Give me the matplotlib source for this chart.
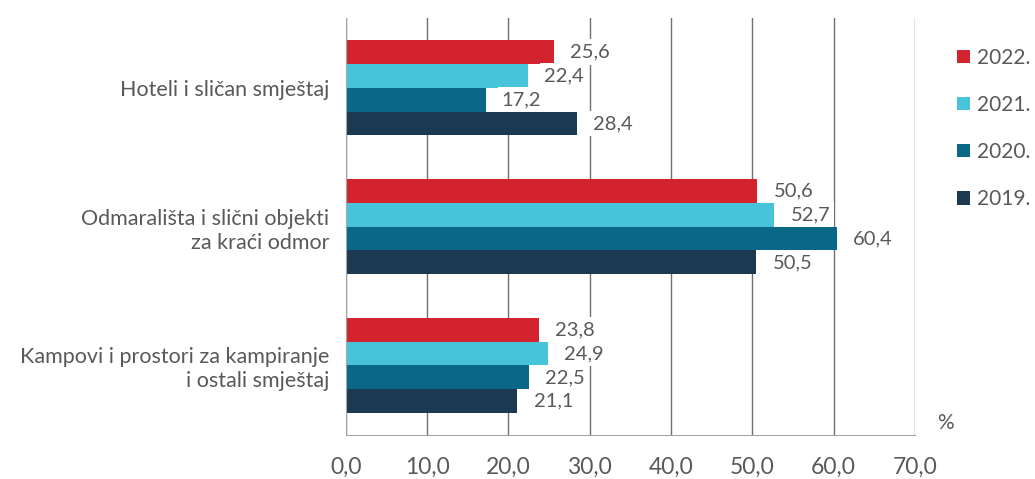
import matplotlib.pyplot as plt
import numpy as np

plt.rcParams['font.family'] = ['Lato', 'DejaVu Sans']

categories = ['Hoteli i sličan smještaj',
              'Odmarališta i slični objekti\nza kraći odmor',
              'Kampovi i prostori za kampiranje\ni ostali smještaj']
years = ['2022.', '2021.', '2020.', '2019.']
v2022 = [25.6, 50.6, 23.8]
v2021 = [22.4, 52.7, 24.9]
v2020 = [17.2, 60.4, 22.5]
v2019 = [28.4, 50.5, 21.1]
colors = ['#D2232F', '#47C3DA', '#0A6787', '#1B3A52']

series = [v2022, v2021, v2020, v2019]
gray = '#595959'

fig = plt.figure(figsize=(10.35, 4.79), dpi=100)
ax = fig.add_axes([0.334, 0.092, 0.55, 0.870])

h = 0.172
y = np.arange(len(categories))
for i, (vals, c, yr) in enumerate(zip(series, colors, years)):
    pos = y + (i - 1.5) * h
    ax.barh(pos, vals, height=h, color=c, label=yr, zorder=2)
    for p, v in zip(pos, vals):
        ax.text(v + 2.0, p, f'{v:.1f}'.replace('.', ','), va='center', ha='left',
                fontsize=14.5, color=gray, zorder=4,
                bbox=dict(facecolor='white', edgecolor='none', pad=3))

ax.set_xlim(0, 70)
ax.set_ylim(len(categories) - 0.5, -0.5)
ax.set_xticks(np.arange(0, 71, 10))
ax.set_xticklabels([f'{t:.1f}'.replace('.', ',') for t in np.arange(0, 71, 10)])
ax.set_yticks(y)
ax.set_yticklabels(categories, fontsize=15.5, color=gray, linespacing=1.25)
ax.tick_params(axis='x', length=0, pad=16, labelsize=16.5, labelcolor=gray)
ax.tick_params(axis='y', length=0, pad=12)
ax.xaxis.grid(True, color='#6f6f6f', linewidth=1.0, zorder=0)
ax.set_axisbelow(True)
for s in ['top', 'right']:
    ax.spines[s].set_visible(False)
ax.spines['left'].set_color('#a6a6a6')
ax.spines['bottom'].set_color('#a6a6a6')

handles, labels = ax.get_legend_handles_labels()
fig.legend(handles, labels, loc='upper left', bbox_to_anchor=(0.925, 0.90),
           frameon=False, fontsize=15, labelcolor=gray, handlelength=0.62,
           handleheight=0.62, handletextpad=0.3, labelspacing=1.3,
           borderaxespad=0, borderpad=0)

fig.text(0.905, 0.105, '%', fontsize=15, color=gray, ha='left')

fig.savefig('out.png', dpi=100)
